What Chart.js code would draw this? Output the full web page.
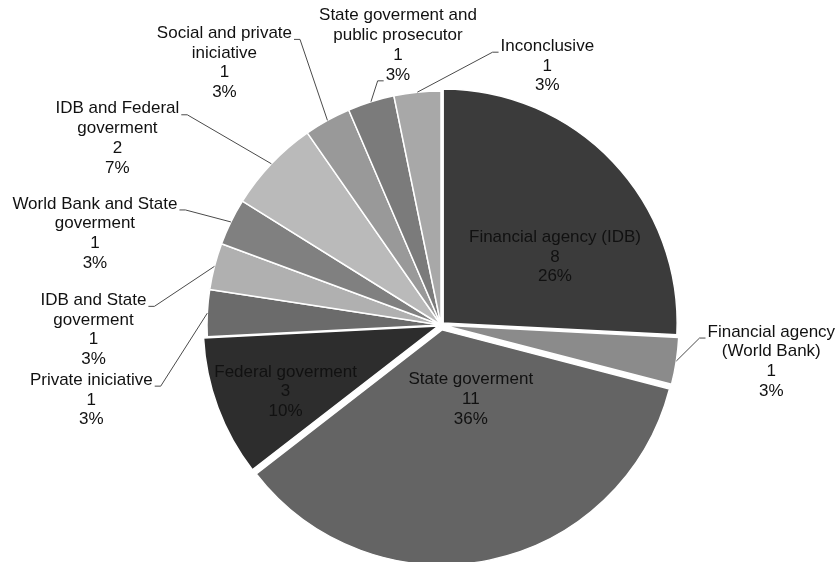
<!DOCTYPE html>
<html lang="en">
<head>
<meta charset="utf-8">
<title>Pie chart</title>
<script src="https://cdn.jsdelivr.net/npm/chart.js@4.4.0/dist/chart.umd.min.js"></script>
<style>
  html, body { margin: 0; padding: 0; background: #fff; }
</style>
</head>
<body>
<canvas id="chart" width="835" height="562"></canvas>
<script>
// category names, already split into the lines they are printed on
const categories = [
  ['Financial agency (IDB)'],
  ['Financial agency', '(World Bank)'],
  ['State goverment'],
  ['Federal goverment'],
  ['Private iniciative'],
  ['IDB and State', 'goverment'],
  ['World Bank and State', 'goverment'],
  ['IDB and Federal', 'goverment'],
  ['Social and private', 'iniciative'],
  ['State goverment and', 'public prosecutor'],
  ['Inconclusive']
];
const counts = [8, 1, 11, 3, 1, 1, 1, 2, 1, 1, 1];
const percentLabels = ['26%', '3%', '36%', '10%', '3%', '3%', '3%', '7%', '3%', '3%', '3%'];

// styling
const sliceColors = ['#3b3b3b', '#8b8b8b', '#646464', '#2d2d2d', '#6b6b6b', '#b0b0b0',
                     '#808080', '#bababa', '#999999', '#7b7b7b', '#a8a8a8'];
const sliceOffsets = [12, 9, 20, 11, 0, 0, 0, 0, 0, 0, 0];
// where the text sits: inside = from slice centroid, else from outer edge with a leader line
const labelPlace = [
  {inside: true, dx: 27, dy: -5},
  {dx: 95, dy: -29},
  {inside: true, dx: 5, dy: -66},
  {inside: true, dx: -42, dy: 5},
  {dx: -116, dy: 67},
  {dx: -121, dy: 34},
  {dx: -136, dy: -18},
  {dx: -154, dy: -55},
  {dx: -103, dy: -87},
  {dx: 27, dy: -86, attach: 3},
  {dx: 130, dy: -46}
];
const lineH = 19.7;

const sliceLabels = {
  id: 'sliceLabels',
  afterDatasetsDraw(chart) {
    const ctx = chart.ctx;
    const arcs = chart.getDatasetMeta(0).data;
    ctx.save();
    ctx.font = '17px "Liberation Sans", Arial, sans-serif';
    ctx.textAlign = 'center';
    ctx.textBaseline = 'middle';
    ctx.fillStyle = '#111111';
    ctx.strokeStyle = '#4a4a4a';
    ctx.lineWidth = 1;
    arcs.forEach((arc, i) => {
      const mid = (arc.startAngle + arc.endAngle) / 2;
      const cos = Math.cos(mid), sin = Math.sin(mid);
      // same shift ArcElement applies for its offset option
      const off = (arc.options.offset || 0) / 4;
      const shift = off * (2 - Math.sin(Math.min(Math.PI, arc.circumference)));
      const place = labelPlace[i];
      const r = (place.inside ? arc.outerRadius / 2 : arc.outerRadius) + shift;
      const ax = arc.x + cos * r, ay = arc.y + sin * r;
      const tx = ax + place.dx, ty = ay + place.dy;
      const lines = categories[i].concat([String(counts[i]), percentLabels[i]]);
      lines.forEach((t, k) => ctx.fillText(t, tx, ty + k * lineH));
      if (!place.inside) {
        const k = place.attach || 0;
        const w = ctx.measureText(lines[k]).width;
        const side = place.dx > 0 ? -1 : 1;
        const ly = ty + k * lineH + 6;
        const ex = tx + side * (w / 2 + 2);
        ctx.beginPath();
        ctx.moveTo(ex, ly);
        ctx.lineTo(ex + side * 6, ly);
        ctx.lineTo(ax, ay);
        ctx.stroke();
      }
    });
    ctx.restore();
  }
};

new Chart(document.getElementById('chart'), {
  type: 'pie',
  data: {
    labels: categories,
    datasets: [{
      data: counts,
      backgroundColor: sliceColors,
      borderColor: '#ffffff',
      borderWidth: 1.5,
      offset: sliceOffsets,
      clip: false
    }]
  },
  options: {
    responsive: false,
    animation: false,
    radius: 234,
    layout: { padding: { left: 47, top: 88, right: 0, bottom: 0 } },
    plugins: {
      legend: { display: false },
      tooltip: { enabled: false }
    }
  },
  plugins: [sliceLabels]
});
</script>
</body>
</html>
